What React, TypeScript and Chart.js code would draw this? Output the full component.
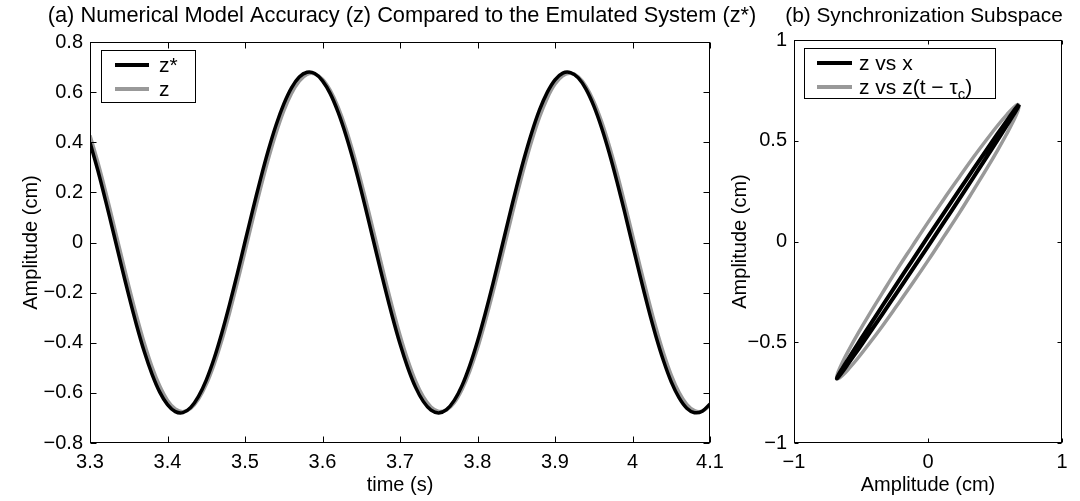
import React, { useEffect, useRef } from 'react';
import { Chart, registerables } from 'chart.js';

Chart.register(...registerables);

// ---------------- DATA ----------------
const timeS = [
  3.30, 3.31, 3.32, 3.33, 3.34, 3.35, 3.36, 3.37, 3.38, 3.39,
  3.40, 3.41, 3.42, 3.43, 3.44, 3.45, 3.46, 3.47, 3.48, 3.49,
  3.50, 3.51, 3.52, 3.53, 3.54, 3.55, 3.56, 3.57, 3.58, 3.59,
  3.60, 3.61, 3.62, 3.63, 3.64, 3.65, 3.66, 3.67, 3.68, 3.69,
  3.70, 3.71, 3.72, 3.73, 3.74, 3.75, 3.76, 3.77, 3.78, 3.79,
  3.80, 3.81, 3.82, 3.83, 3.84, 3.85, 3.86, 3.87, 3.88, 3.89,
  3.90, 3.91, 3.92, 3.93, 3.94, 3.95, 3.96, 3.97, 3.98, 3.99,
  4.00, 4.01, 4.02, 4.03, 4.04, 4.05, 4.06, 4.07, 4.08, 4.09,
  4.10,
];

// emulated system z*
const zStar = [
  0.399, 0.289, 0.168, 0.042, -0.086, -0.211, -0.329, -0.435, -0.525, -0.597,
  -0.647, -0.675, -0.679, -0.658, -0.614, -0.549, -0.464, -0.362, -0.248, -0.125,
  0.003, 0.130, 0.253, 0.367, 0.468, 0.552, 0.617, 0.660, 0.679, 0.674,
  0.645, 0.594, 0.521, 0.430, 0.324, 0.206, 0.080, -0.048, -0.174, -0.294,
  -0.404, -0.499, -0.577, -0.634, -0.669, -0.680, -0.667, -0.630, -0.571, -0.491,
  -0.394, -0.283, -0.163, -0.036, 0.092, 0.217, 0.334, 0.439, 0.529, 0.599,
  0.649, 0.676, 0.678, 0.657, 0.612, 0.545, 0.459, 0.357, 0.242, 0.119,
  -0.009, -0.136, -0.259, -0.372, -0.472, -0.556, -0.619, -0.661, -0.679, -0.673,
  -0.644,
];

// numerical model z
const zModel = [
  0.427, 0.321, 0.204, 0.079, -0.048, -0.173, -0.292, -0.401, -0.496, -0.573,
  -0.630, -0.664, -0.675, -0.662, -0.625, -0.566, -0.487, -0.391, -0.281, -0.161,
  -0.035, 0.092, 0.216, 0.332, 0.436, 0.525, 0.595, 0.644, 0.671, 0.673,
  0.652, 0.607, 0.541, 0.456, 0.354, 0.240, 0.118, -0.009, -0.136, -0.257,
  -0.370, -0.469, -0.552, -0.615, -0.656, -0.674, -0.668, -0.639, -0.586, -0.513,
  -0.422, -0.315, -0.198, -0.074, 0.054, 0.179, 0.298, 0.406, 0.500, 0.576,
  0.632, 0.665, 0.675, 0.661, 0.623, 0.563, 0.483, 0.386, 0.276, 0.155,
  0.029, -0.098, -0.221, -0.337, -0.441, -0.529, -0.598, -0.646, -0.671, -0.673,
  -0.650,
];

// phase plot: z vs x
const zxX = [
  0.680, 0.670, 0.639, 0.589, 0.521, 0.437, 0.340, 0.233, 0.118, 0.000,
  -0.118, -0.233, -0.340, -0.437, -0.521, -0.589, -0.639, -0.670, -0.680, -0.670,
  -0.639, -0.589, -0.521, -0.437, -0.340, -0.233, -0.118, 0.000, 0.118, 0.233,
  0.340, 0.437, 0.521, 0.589, 0.639, 0.670, 0.680,
];
const zxZ = [
  0.680, 0.673, 0.647, 0.600, 0.536, 0.455, 0.360, 0.255, 0.141, 0.024,
  -0.095, -0.210, -0.319, -0.419, -0.505, -0.577, -0.630, -0.665, -0.680, -0.673,
  -0.647, -0.600, -0.536, -0.455, -0.360, -0.255, -0.141, -0.024, 0.095, 0.210,
  0.319, 0.419, 0.505, 0.577, 0.630, 0.665, 0.680,
];

// phase plot: z vs z(t - tau_c)
const zzLag = [
  0.680, 0.670, 0.639, 0.589, 0.521, 0.437, 0.340, 0.233, 0.118, 0.000,
  -0.118, -0.233, -0.340, -0.437, -0.521, -0.589, -0.639, -0.670, -0.680, -0.670,
  -0.639, -0.589, -0.521, -0.437, -0.340, -0.233, -0.118, 0.000, 0.118, 0.233,
  0.340, 0.437, 0.521, 0.589, 0.639, 0.670, 0.680,
];
const zzZ = [
  0.673, 0.680, 0.665, 0.630, 0.577, 0.505, 0.419, 0.319, 0.210, 0.095,
  -0.024, -0.141, -0.255, -0.360, -0.455, -0.536, -0.600, -0.647, -0.673, -0.680,
  -0.665, -0.630, -0.577, -0.505, -0.419, -0.319, -0.210, -0.095, 0.024, 0.141,
  0.255, 0.360, 0.455, 0.536, 0.600, 0.647, 0.673,
];

// ticks
const leftXTicks = [3.3, 3.4, 3.5, 3.6, 3.7, 3.8, 3.9, 4.0, 4.1];
const leftXLabels = ['3.3', '3.4', '3.5', '3.6', '3.7', '3.8', '3.9', '4', '4.1'];
const leftYTicks = [-0.8, -0.6, -0.4, -0.2, 0, 0.2, 0.4, 0.6, 0.8];
const leftYLabels = ['\u22120.8', '\u22120.6', '\u22120.4', '\u22120.2', '0', '0.2', '0.4', '0.6', '0.8'];
const rightXTicks = [-1, 0, 1];
const rightXLabels = ['\u22121', '0', '1'];
const rightYTicks = [-1, -0.5, 0, 0.5, 1];
const rightYLabels = ['\u22121', '\u22120.5', '0', '0.5', '1'];

// ---------------- STYLE ----------------
const FONT = "'Liberation Sans', Arial, Helvetica, sans-serif";
const BLACK = '#000000';
const GRAY = '#999999';
const W = 1080;
const H = 501;

type Part = { text: string; size?: number; dy?: number };
type LegendEntry = { color: string; parts: Part[] };

function makeFramePlugin(cfg: {
  id: string;
  tickLen: number;
  xTicks: number[];
  yTicks: number[];
  title: string;
  titleY: number;
  titleDx: number;
  titleSize: number;
  legendFont: number;
  legendBox: { x: number; y: number; w: number; h: number };
  legendLine: { x1: number; x2: number; textX: number; rowY: number[] };
  legend: LegendEntry[];
}) {
  return {
    id: cfg.id,
    afterDatasetsDraw(chart: any) {
      const { ctx, chartArea } = chart;
      const xs = chart.scales.x;
      const ys = chart.scales.y;
      const L = Math.round(chartArea.left) + 0.5;
      const R = Math.round(chartArea.right) - 0.5;
      const T = Math.round(chartArea.top) + 0.5;
      const B = Math.round(chartArea.bottom) - 0.5;
      ctx.save();
      ctx.strokeStyle = BLACK;
      ctx.lineWidth = 1;
      ctx.beginPath();
      for (const v of cfg.xTicks) {
        const px = Math.round(xs.getPixelForValue(v)) + 0.5;
        ctx.moveTo(px, B);
        ctx.lineTo(px, B - cfg.tickLen);
        ctx.moveTo(px, T);
        ctx.lineTo(px, T + cfg.tickLen);
      }
      for (const v of cfg.yTicks) {
        const py = Math.round(ys.getPixelForValue(v)) + 0.5;
        ctx.moveTo(L, py);
        ctx.lineTo(L + cfg.tickLen, py);
        ctx.moveTo(R, py);
        ctx.lineTo(R - cfg.tickLen, py);
      }
      ctx.stroke();
      ctx.strokeRect(L, T, R - L, B - T);

      // legend
      const lb = cfg.legendBox;
      ctx.fillStyle = '#ffffff';
      ctx.fillRect(lb.x, lb.y, lb.w, lb.h);
      ctx.strokeStyle = BLACK;
      ctx.lineWidth = 1;
      ctx.strokeRect(lb.x + 0.5, lb.y + 0.5, lb.w, lb.h);
      cfg.legend.forEach((e, i) => {
        const y = cfg.legendLine.rowY[i];
        ctx.strokeStyle = e.color;
        ctx.lineWidth = 4;
        ctx.beginPath();
        ctx.moveTo(cfg.legendLine.x1, y);
        ctx.lineTo(cfg.legendLine.x2, y);
        ctx.stroke();
        let x = cfg.legendLine.textX;
        ctx.fillStyle = BLACK;
        ctx.textAlign = 'left';
        ctx.textBaseline = 'alphabetic';
        for (const p of e.parts) {
          ctx.font = `${p.size ?? cfg.legendFont}px ${FONT}`;
          ctx.fillText(p.text, x, y + 7 + (p.dy ?? 0));
          x += ctx.measureText(p.text).width;
        }
      });

      // title
      ctx.fillStyle = BLACK;
      ctx.font = `${cfg.titleSize}px ${FONT}`;
      ctx.textAlign = 'center';
      ctx.textBaseline = 'middle';
      ctx.fillText(cfg.title, (chartArea.left + chartArea.right) / 2 + cfg.titleDx, cfg.titleY);
      ctx.restore();
    },
  };
}

function axisCommon(
  ticks: number[],
  labels: string[],
  title: string,
  titlePadding: any,
  tickPadding: number,
  fitSize: number,
  horizontal: boolean,
  min: number,
  max: number
) {
  return {
    type: 'linear',
    min,
    max,
    afterBuildTicks: (s: any) => {
      s.ticks = ticks.map((v) => ({ value: v }));
    },
    afterFit: (s: any) => {
      if (horizontal) s.height = fitSize;
      else s.width = fitSize;
    },
    ticks: {
      callback: (_v: any, i: number) => labels[i],
      padding: tickPadding,
      color: BLACK,
      font: { family: FONT, size: 20 },
      autoSkip: false,
      maxRotation: 0,
      minRotation: 0,
    },
    grid: { display: false, drawTicks: false },
    border: { display: false },
    title: {
      display: true,
      text: title,
      color: BLACK,
      font: { family: FONT, size: 20 },
      padding: titlePadding,
    },
  };
}

function ChartCanvas({ left, width, config }: { left: number; width: number; config: any }) {
  const ref = useRef<HTMLCanvasElement>(null);
  useEffect(() => {
    const chart = new Chart(ref.current as HTMLCanvasElement, config);
    return () => chart.destroy();
  }, []);
  return (
    <canvas
      ref={ref}
      width={width}
      height={H}
      style={{ position: 'absolute', left, top: 0, width, height: H }}
    />
  );
}

const leftConfig = {
  type: 'line',
  data: {
    datasets: [
      {
        label: 'z*',
        data: timeS.map((t, i) => ({ x: t, y: zStar[i] })),
        borderColor: BLACK,
        borderWidth: 3.5,
        pointRadius: 0,
        tension: 0.3,
        fill: false,
        clip: 0,
      },
      {
        label: 'z',
        data: timeS.map((t, i) => ({ x: t, y: zModel[i] })),
        borderColor: GRAY,
        borderWidth: 3.5,
        pointRadius: 0,
        tension: 0.3,
        fill: false,
        clip: 0,
      },
    ],
  },
  options: {
    animation: false,
    responsive: false,
    devicePixelRatio: 1,
    layout: { padding: { top: 42, right: 50, bottom: 0, left: 0 } },
    plugins: { legend: { display: false }, tooltip: { enabled: false }, title: { display: false } },
    scales: {
      x: axisCommon(leftXTicks, leftXLabels, 'time (s)', { top: 0, bottom: 4 }, 7, 58, true, 3.3, 4.1),
      y: axisCommon(leftYTicks, leftYLabels, 'Amplitude (cm)', { top: 19, bottom: 0 }, 7, 90, false, -0.8, 0.8),
    },
  },
  plugins: [
    makeFramePlugin({
      id: 'frameLeft',
      tickLen: 6,
      xTicks: leftXTicks,
      yTicks: leftYTicks,
      title: '(a) Numerical Model Accuracy (z) Compared to the Emulated System (z*)',
      titleY: 16,
      titleDx: 2,
      titleSize: 21.8,
      legendFont: 21,
      legendBox: { x: 101, y: 50, w: 94, h: 52 },
      legendLine: { x1: 115, x2: 149, textX: 159, rowY: [65, 89] },
      legend: [
        { color: BLACK, parts: [{ text: 'z*' }] },
        { color: GRAY, parts: [{ text: 'z' }] },
      ],
    }),
  ],
};

const rightConfig = {
  type: 'scatter',
  data: {
    datasets: [
      {
        label: 'z vs x',
        data: zxX.map((x, i) => ({ x, y: zxZ[i] })),
        showLine: true,
        borderColor: BLACK,
        borderWidth: 4,
        pointRadius: 0,
        tension: 0.4,
        fill: false,
        clip: 0,
      },
      {
        label: 'z vs z(t - tau_c)',
        data: zzLag.map((x, i) => ({ x, y: zzZ[i] })),
        showLine: true,
        borderColor: GRAY,
        borderWidth: 3.5,
        pointRadius: 0,
        tension: 0.4,
        fill: false,
        clip: 0,
      },
    ],
  },
  options: {
    animation: false,
    responsive: false,
    devicePixelRatio: 1,
    layout: { padding: { top: 40, right: 18, bottom: 0, left: 0 } },
    plugins: { legend: { display: false }, tooltip: { enabled: false }, title: { display: false } },
    scales: {
      x: axisCommon(rightXTicks, rightXLabels, 'Amplitude (cm)', { top: 0, bottom: 4 }, 7, 58, true, -1, 1),
      y: axisCommon(rightYTicks, rightYLabels, 'Amplitude (cm)', { top: 8, bottom: 0 }, 7, 74, false, -1, 1),
    },
  },
  plugins: [
    makeFramePlugin({
      id: 'frameRight',
      tickLen: 4,
      xTicks: rightXTicks,
      yTicks: rightYTicks,
      title: '(b) Synchronization Subspace',
      titleY: 16,
      titleDx: -4,
      titleSize: 20.8,
      legendFont: 21,
      legendBox: { x: 84, y: 48, w: 191, h: 50 },
      legendLine: { x1: 97, x2: 132, textX: 139, rowY: [63, 87] },
      legend: [
        { color: BLACK, parts: [{ text: 'z vs x' }] },
        {
          color: GRAY,
          parts: [
            { text: 'z vs z(t \u2212 \u03c4' },
            { text: 'c', size: 15, dy: 5 },
            { text: ')' },
          ],
        },
      ],
    }),
  ],
};

export default function App() {
  return (
    <div style={{ position: 'absolute', left: 0, top: 0, width: W, height: H, background: '#ffffff', overflow: 'hidden' }}>
      <ChartCanvas left={0} width={760} config={leftConfig} />
      <ChartCanvas left={720} width={360} config={rightConfig} />
    </div>
  );
}
